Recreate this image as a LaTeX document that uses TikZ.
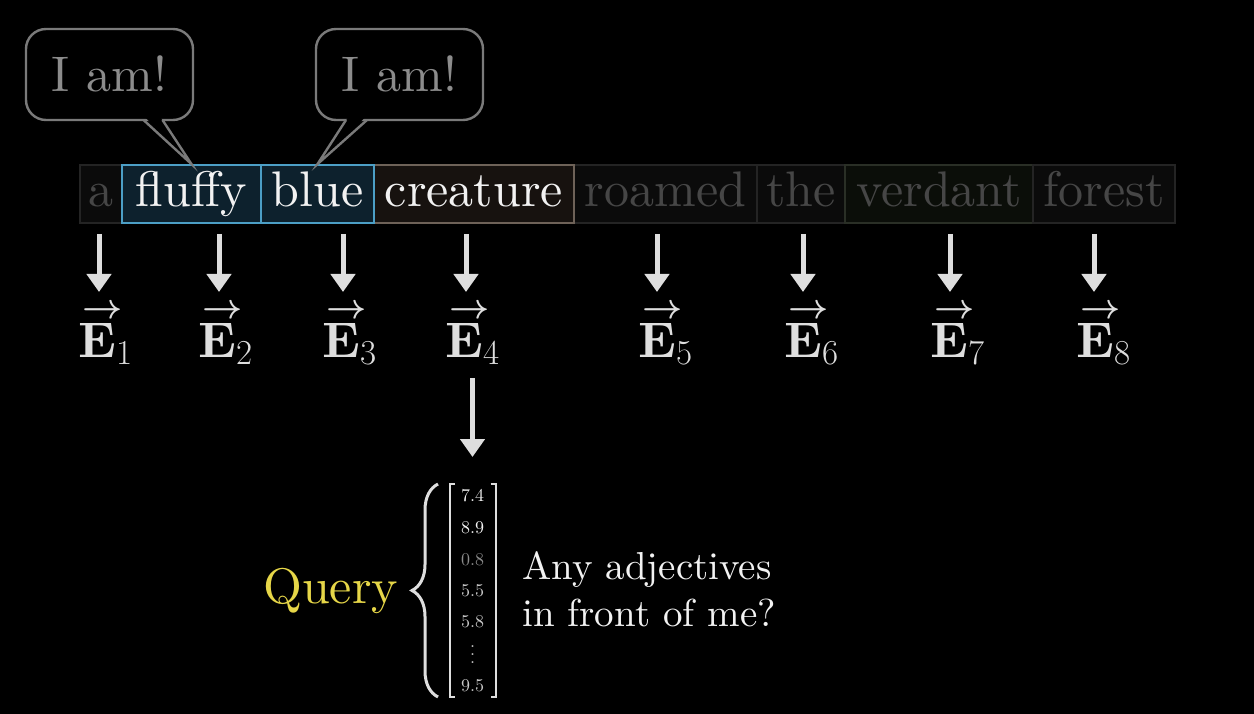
\RequirePackage{fix-cm}
\documentclass[tikz,border=0pt]{standalone}
\usepackage{amsmath}
\usepackage{fontspec}
\setmainfont{lmroman10-regular.otf}[BoldFont=lmroman10-bold.otf]
\usetikzlibrary{arrows.meta,decorations.pathreplacing}
\definecolor{dimfill}{RGB}{11,11,11}
\definecolor{dimline}{RGB}{36,36,36}
\definecolor{dimtext}{RGB}{70,70,70}
\definecolor{greenfill}{RGB}{11,14,9}
\definecolor{greenline}{RGB}{42,47,38}
\definecolor{hifill}{RGB}{13,33,45}
\definecolor{hiline}{RGB}{76,159,198}
\definecolor{crfill}{RGB}{23,18,15}
\definecolor{crline}{RGB}{110,98,88}
\definecolor{wordtext}{RGB}{242,242,242}
\definecolor{bubline}{RGB}{122,122,122}
\definecolor{bubtext}{RGB}{140,140,140}
\definecolor{arrcol}{RGB}{222,222,222}
\definecolor{querycol}{RGB}{230,214,72}
\definecolor{entrydim}{RGB}{140,140,140}
\definecolor{entrymid}{RGB}{200,200,200}
\newcommand{\myvdots}{\vbox{\baselineskip=8pt\lineskiplimit=0pt\hbox{.}\hbox{.}\hbox{.}}}
\newcommand{\vecE}[1]{${\rlap{\kern4pt\raisebox{39pt}{$\scriptstyle\boldsymbol{\rightarrow}$}}\mathbf{E}}_{#1}$}
\begin{document}
\begin{tikzpicture}[x=1pt,y=-1pt,
  word/.style={draw, line width=1.8pt, inner sep=0pt, minimum height=58pt,
    text height=36pt, text depth=10pt, font=\fontsize{50}{60}\selectfont},
  dimword/.style={word, fill=dimfill, draw=dimline, text=dimtext},
  greenword/.style={word, fill=greenfill, draw=greenline, text=dimtext},
  hiword/.style={word, fill=hifill, draw=hiline, text=wordtext},
  crword/.style={word, fill=crfill, draw=crline, text=wordtext},
  bubble/.style={draw=bubline, line width=2.4pt, rounded corners=20pt, fill=black,
    text=bubtext, inner sep=0pt, minimum width=167pt, minimum height=91pt,
    text height=35pt, text depth=0pt, font=\fontsize{50}{60}\selectfont},
  tail/.style={draw=bubline, line width=2.4pt, line join=miter},
  bigarrow/.style={draw=arrcol, line width=5pt, -{Triangle[width=24pt,length=18pt]}},
  elabel/.style={anchor=base west, text=arrcol, inner sep=0pt, font=\fontsize{50}{60}\selectfont},
  entry/.style={inner sep=0pt, anchor=base, font=\fontsize{18}{20}\selectfont},
  bracket/.style={draw=arrcol, line width=2pt},
  qtext/.style={anchor=base west, inner sep=0pt, text=wordtext, font=\fontsize{39}{47}\selectfont},
]
\fill[black] (0,0) rectangle (1254,714);

% word boxes
\node[dimword, minimum width=42pt] (w1) at (101,194) {a};
\node[dimword, minimum width=183pt] (w5) at (665.5,194) {roamed};
\node[dimword, minimum width=88pt] (w6) at (801,194) {the};
\node[greenword, minimum width=188pt] (w7) at (939,194) {verdant};
\node[dimword, minimum width=142pt] (w8) at (1104,194) {forest};
\node[crword, minimum width=200pt] (w4) at (474,194) {creature};
\node[hiword, minimum width=139pt] (w2) at (191.5,194) {fluffy};
\node[hiword, minimum width=113pt] (w3) at (317.5,194) {blue};

% speech bubbles
\node[bubble] (b1) at (109.5,74.5) {I am!};
\node[bubble] (b2) at (399.5,74.5) {I am!};
\coordinate (b1l) at (143.5,120);
\coordinate (b1r) at (162.5,120);
\coordinate (b2l) at (346,120);
\coordinate (b2r) at (367,120);
\fill[black] (145.5,117.5) -- (w2.north) -- (160.5,117.5) -- cycle;
\fill[black] (348,117.5) -- (w3.north) -- (365,117.5) -- cycle;
\draw[tail] (b1l) -- (w2.north) -- (b1r);
\draw[tail] (b2l) -- (w3.north) -- (b2r);

% embedding labels
\node[elabel] (e1) at (78,357) {\vecE{1}};
\node[elabel] (e2) at (198,357) {\vecE{2}};
\node[elabel] (e3) at (322,357) {\vecE{3}};
\node[elabel] (e4) at (445,357) {\vecE{4}};
\node[elabel] (e5) at (638,357) {\vecE{5}};
\node[elabel] (e6) at (784,357) {\vecE{6}};
\node[elabel] (e7) at (930,357) {\vecE{7}};
\node[elabel] (e8) at (1076,357) {\vecE{8}};

% arrows words -> embeddings
\foreach \i/\x in {1/99,2/219,3/343,4/466,5/657,6/803,7/950,8/1094}{
  \coordinate (t\i) at (\x,234);
  \coordinate (h\i) at (\x,292);
  \draw[bigarrow] (t\i) -- (h\i);
}

% arrow E4 -> query vector
\coordinate (qtop) at (472.5,378);
\coordinate (qtip) at (472.5,457);
\draw[bigarrow] (qtop) -- (qtip);

% query vector
\node[entry, text=wordtext] (v1) at (472.5,501.5) {7.4};
\node[entry, text=wordtext] (v2) at (472.5,533) {8.9};
\node[entry, text=entrydim] (v3) at (472.5,565) {0.8};
\node[entry, text=entrymid] (v4) at (472.5,596) {5.5};
\node[entry, text=entrymid] (v5) at (472.5,627) {5.8};
\node[entry, text=entrymid] (v6) at (472.5,663) {\myvdots};
\node[entry, text=entrymid] (v7) at (472.5,691.5) {9.5};
\draw[bracket] (455,484) -- (450,484) -- (450,697) -- (455,697);
\draw[bracket] (490.5,484) -- (495.5,484) -- (495.5,697) -- (490.5,697);
\draw[draw=arrcol, line width=3pt, decorate, decoration={brace, amplitude=26pt}] (438,697) -- (438,484);

\node[anchor=base west, inner sep=0pt, text=querycol, font=\fontsize{50}{60}\selectfont] (query) at (263,603) {Query};

\node[qtext] (q1) at (522,579) {Any adjectives};
\node[qtext] (q2) at (522,626) {in front of me?};
\end{tikzpicture}
\end{document}
